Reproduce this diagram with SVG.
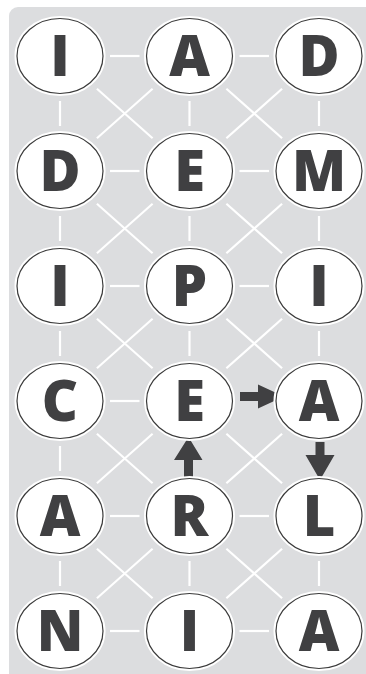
<svg xmlns="http://www.w3.org/2000/svg" width="366" height="674" viewBox="0 0 366 674">
<defs>
<style>
.bg{fill:#dcdddf}
.c line{stroke:#ffffff;stroke-width:2.2;stroke-linecap:butt}
.halo{fill:#ffffff;stroke:#ffffff;stroke-width:5}
.ring{fill:#ffffff;stroke:#3a3a3a;stroke-width:1.2}
.t{font-family:"Open Sans","Liberation Sans",sans-serif;font-weight:800;font-size:56px;fill:#404042;text-anchor:middle}
.ar{fill:#404042}
</style>
</defs>
<rect width="366" height="674" fill="#ffffff"/>
<rect class="bg" x="9" y="7" width="370" height="680" rx="9"/>
<g id="connectors" class="c">
<!-- horizontal -->
<line x1="110" y1="56" x2="139.5" y2="56"/><line x1="239.5" y1="56" x2="269" y2="56"/>
<line x1="110" y1="171" x2="139.5" y2="171"/><line x1="239.5" y1="171" x2="269" y2="171"/>
<line x1="110" y1="286" x2="139.5" y2="286"/><line x1="239.5" y1="286" x2="269" y2="286"/>
<line x1="110" y1="401" x2="139.5" y2="401"/>
<line x1="110" y1="516" x2="139.5" y2="516"/><line x1="239.5" y1="516" x2="269" y2="516"/>
<line x1="110" y1="631" x2="139.5" y2="631"/><line x1="239.5" y1="631" x2="269" y2="631"/>
<!-- vertical -->
<line x1="60" y1="101" x2="60" y2="126"/><line x1="189.5" y1="101" x2="189.5" y2="126"/><line x1="319" y1="101" x2="319" y2="126"/>
<line x1="60" y1="216" x2="60" y2="241"/><line x1="189.5" y1="216" x2="189.5" y2="241"/><line x1="319" y1="216" x2="319" y2="241"/>
<line x1="60" y1="331" x2="60" y2="356"/><line x1="189.5" y1="331" x2="189.5" y2="356"/><line x1="319" y1="331" x2="319" y2="356"/>
<line x1="60" y1="446" x2="60" y2="471"/>
<line x1="60" y1="561" x2="60" y2="586"/><line x1="189.5" y1="561" x2="189.5" y2="586"/><line x1="319" y1="561" x2="319" y2="586"/>
<!-- diagonals -->
<line x1="96.9" y1="88.8" x2="152.6" y2="138.2"/><line x1="152.6" y1="88.8" x2="96.9" y2="138.2"/>
<line x1="226.4" y1="88.8" x2="282.1" y2="138.2"/><line x1="282.1" y1="88.8" x2="226.4" y2="138.2"/>
<line x1="96.9" y1="203.8" x2="152.6" y2="253.2"/><line x1="152.6" y1="203.8" x2="96.9" y2="253.2"/>
<line x1="226.4" y1="203.8" x2="282.1" y2="253.2"/><line x1="282.1" y1="203.8" x2="226.4" y2="253.2"/>
<line x1="96.9" y1="318.8" x2="152.6" y2="368.2"/><line x1="152.6" y1="318.8" x2="96.9" y2="368.2"/>
<line x1="226.4" y1="318.8" x2="282.1" y2="368.2"/><line x1="282.1" y1="318.8" x2="226.4" y2="368.2"/>
<line x1="96.9" y1="433.8" x2="152.6" y2="483.2"/><line x1="152.6" y1="433.8" x2="96.9" y2="483.2"/>
<line x1="226.4" y1="433.8" x2="282.1" y2="483.2"/><line x1="282.1" y1="433.8" x2="226.4" y2="483.2"/>
<line x1="96.9" y1="548.8" x2="152.6" y2="598.2"/><line x1="152.6" y1="548.8" x2="96.9" y2="598.2"/>
<line x1="226.4" y1="548.8" x2="282.1" y2="598.2"/><line x1="282.1" y1="548.8" x2="226.4" y2="598.2"/>
</g>
<g id="arrows" class="ar">
<polygon points="240,392 258,392 258,384.5 284,396.5 258,408.5 258,401 240,401"/>
<polygon points="315.5,442 324.5,442 324.5,455 334.5,455 320,480 305.5,455 315.5,455"/>
<polygon points="184,477 193,477 193,460 202.5,460 188.5,437 174,460 184,460"/>
</g>
<g id="n-r1c1"><ellipse class="halo" cx="60" cy="56" rx="43" ry="37.5"/><ellipse class="ring" cx="60" cy="56" rx="43" ry="37.5"/><text class="t" x="60" y="76">I</text></g>
<g id="n-r1c2"><ellipse class="halo" cx="189.5" cy="56" rx="43" ry="37.5"/><ellipse class="ring" cx="189.5" cy="56" rx="43" ry="37.5"/><text class="t" x="189.5" y="76">A</text></g>
<g id="n-r1c3"><ellipse class="halo" cx="319" cy="56" rx="43" ry="37.5"/><ellipse class="ring" cx="319" cy="56" rx="43" ry="37.5"/><text class="t" x="319" y="76">D</text></g>
<g id="n-r2c1"><ellipse class="halo" cx="60" cy="171" rx="43" ry="37.5"/><ellipse class="ring" cx="60" cy="171" rx="43" ry="37.5"/><text class="t" x="60" y="191">D</text></g>
<g id="n-r2c2"><ellipse class="halo" cx="189.5" cy="171" rx="43" ry="37.5"/><ellipse class="ring" cx="189.5" cy="171" rx="43" ry="37.5"/><text class="t" x="189.5" y="191">E</text></g>
<g id="n-r2c3"><ellipse class="halo" cx="319" cy="171" rx="43" ry="37.5"/><ellipse class="ring" cx="319" cy="171" rx="43" ry="37.5"/><text class="t" x="319" y="191">M</text></g>
<g id="n-r3c1"><ellipse class="halo" cx="60" cy="286" rx="43" ry="37.5"/><ellipse class="ring" cx="60" cy="286" rx="43" ry="37.5"/><text class="t" x="60" y="306">I</text></g>
<g id="n-r3c2"><ellipse class="halo" cx="189.5" cy="286" rx="43" ry="37.5"/><ellipse class="ring" cx="189.5" cy="286" rx="43" ry="37.5"/><text class="t" x="189.5" y="306">P</text></g>
<g id="n-r3c3"><ellipse class="halo" cx="319" cy="286" rx="43" ry="37.5"/><ellipse class="ring" cx="319" cy="286" rx="43" ry="37.5"/><text class="t" x="319" y="306">I</text></g>
<g id="n-r4c1"><ellipse class="halo" cx="60" cy="401" rx="43" ry="37.5"/><ellipse class="ring" cx="60" cy="401" rx="43" ry="37.5"/><text class="t" x="60" y="421">C</text></g>
<g id="n-r4c2"><ellipse class="halo" cx="189.5" cy="401" rx="43" ry="37.5"/><ellipse class="ring" cx="189.5" cy="401" rx="43" ry="37.5"/><text class="t" x="189.5" y="421">E</text></g>
<g id="n-r4c3"><ellipse class="halo" cx="319" cy="401" rx="43" ry="37.5"/><ellipse class="ring" cx="319" cy="401" rx="43" ry="37.5"/><text class="t" x="319" y="421">A</text></g>
<g id="n-r5c1"><ellipse class="halo" cx="60" cy="516" rx="43" ry="37.5"/><ellipse class="ring" cx="60" cy="516" rx="43" ry="37.5"/><text class="t" x="60" y="536">A</text></g>
<g id="n-r5c2"><ellipse class="halo" cx="189.5" cy="516" rx="43" ry="37.5"/><ellipse class="ring" cx="189.5" cy="516" rx="43" ry="37.5"/><text class="t" x="189.5" y="536">R</text></g>
<g id="n-r5c3"><ellipse class="halo" cx="319" cy="516" rx="43" ry="37.5"/><ellipse class="ring" cx="319" cy="516" rx="43" ry="37.5"/><text class="t" x="319" y="536">L</text></g>
<g id="n-r6c1"><ellipse class="halo" cx="60" cy="631" rx="43" ry="37.5"/><ellipse class="ring" cx="60" cy="631" rx="43" ry="37.5"/><text class="t" x="60" y="651">N</text></g>
<g id="n-r6c2"><ellipse class="halo" cx="189.5" cy="631" rx="43" ry="37.5"/><ellipse class="ring" cx="189.5" cy="631" rx="43" ry="37.5"/><text class="t" x="189.5" y="651">I</text></g>
<g id="n-r6c3"><ellipse class="halo" cx="319" cy="631" rx="43" ry="37.5"/><ellipse class="ring" cx="319" cy="631" rx="43" ry="37.5"/><text class="t" x="319" y="651">A</text></g>
</svg>
